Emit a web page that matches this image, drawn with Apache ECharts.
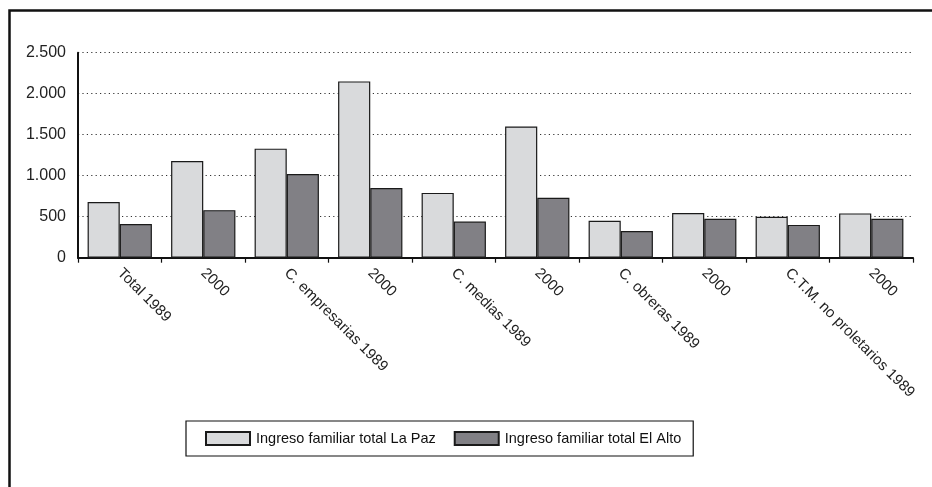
<!DOCTYPE html>
<html>
<head>
<meta charset="utf-8">
<script src="https://cdn.jsdelivr.net/npm/echarts@6.0.0/dist/echarts.min.js"></script>
<style>
  html, body { margin: 0; padding: 0; background: #fff; }
  #chart { width: 932px; height: 487px; }
</style>
</head>
<body>
<div id="chart"></div>
<script>
  'use strict'

  // categories and values
  const categories = [
    'Total 1989', '2000',
    'C. empresarias 1989', '2000',
    'C. medias 1989', '2000',
    'C. obreras 1989', '2000',
    'C.T.M. no proletarios 1989', '2000',
  ]
  const laPaz = [680, 1180, 1330, 2150, 790, 1600, 450, 545, 500, 540]
  const elAlto = [410, 580, 1020, 850, 440, 730, 325, 475, 400, 475]
  const seriesNames = ['Ingreso familiar total La Paz', 'Ingreso familiar total El Alto']
  const yTicks = [0, 500, 1000, 1500, 2000, 2500]

  const FONT = '"Liberation Sans Narrow", "Arial Narrow", "Liberation Sans", Arial, sans-serif'

  // 2500 -> "2.500"
  const fmtThousands = v => String(v).replace(/\B(?=(\d{3})+(?!\d))/g, '.')

  const barStyle = color => ({
    color,
    borderColor: '#1a1a1a',
    borderWidth: 1.2,
  })

  const chart = echarts.init(document.getElementById('chart'), null, {renderer: 'canvas'})

  const option = {
    animation: false,
    backgroundColor: '#fff',
    textStyle: {fontFamily: FONT},
    graphic: [
      {
        // outer frame, runs off the right and bottom edges
        type: 'rect',
        shape: {x: 9.5, y: 10.5, width: 1000, height: 600},
        style: {fill: null, stroke: '#111', lineWidth: 2.5},
        silent: true,
      },
    ],
    grid: {
      left: 78,
      right: 19,
      top: 52.7,
      bottom: 229.3,
      containLabel: false,
    },
    legend: {
      data: seriesNames,
      orient: 'horizontal',
      left: 186,
      top: 421,
      padding: [10, 12, 10, 19],
      borderColor: '#111',
      borderWidth: 1.2,
      itemWidth: 44,
      itemHeight: 13,
      itemGap: 18,
      icon: 'rect',
      textStyle: {fontFamily: FONT, fontSize: 14.5, color: '#111', padding: [0, 0, 0, 1]},
    },
    xAxis: {
      type: 'category',
      data: categories,
      axisLine: {show: true, lineStyle: {color: '#111', width: 2}},
      axisTick: {show: true, length: 5, lineStyle: {color: '#111', width: 1.2}},
      axisLabel: {
        interval: 0,
        rotate: -45,
        margin: 13,
        fontFamily: FONT,
        fontSize: 15,
        color: '#222',
      },
    },
    yAxis: {
      type: 'value',
      min: yTicks[0],
      max: yTicks[yTicks.length - 1],
      interval: 500,
      axisLine: {show: true, lineStyle: {color: '#111', width: 2}},
      axisTick: {show: false},
      axisLabel: {
        margin: 12,
        fontFamily: FONT,
        fontSize: 16,
        color: '#222',
        formatter: fmtThousands,
      },
      splitLine: {
        show: true,
        lineStyle: {color: '#333', width: 1.2, type: [1.2, 3.2]},
      },
    },
    series: [
      {
        name: seriesNames[0],
        type: 'bar',
        data: laPaz,
        barGap: '0%',
        barCategoryGap: '23%',
        itemStyle: barStyle('#d9dadc'),
      },
      {
        name: seriesNames[1],
        type: 'bar',
        data: elAlto,
        itemStyle: barStyle('#818085'),
      },
    ],
  }

  chart.setOption(option)
</script>
</body>
</html>
